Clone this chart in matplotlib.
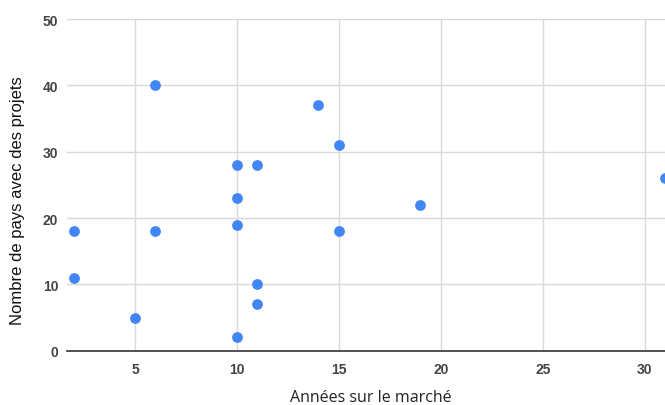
import matplotlib.pyplot as plt

annees = [2, 2, 5, 6, 6, 10, 10, 10, 10, 11, 11, 11, 14, 15, 15, 19, 31]
pays = [18, 11, 5, 40, 18, 28, 23, 19, 2, 28, 10, 7, 37, 31, 18, 22, 26]
xticks = [5, 10, 15, 20, 25, 30]
yticks = [0, 10, 20, 30, 40, 50]

fig = plt.figure(figsize=(6.65, 4.06), dpi=100)
ax = fig.add_axes([0.1003, 0.1338, 0.8997, 0.8169])

ax.scatter(annees, pays, s=60, color="#4285f4", zorder=3, clip_on=True, linewidths=0)

ax.set_xlim(1.65, 31)
ax.set_ylim(0, 50)
ax.set_xticks(xticks)
ax.set_yticks(yticks)
ax.grid(True, color="#d9d9d9", linewidth=1)
ax.set_axisbelow(True)
for s in ["top", "right", "left"]:
    ax.spines[s].set_visible(False)
ax.spines["bottom"].set_color("#333333")
ax.spines["bottom"].set_linewidth(1.2)
ax.tick_params(length=0, labelsize=10, labelcolor="#444444", labelfontfamily="Liberation Sans")
ax.tick_params(axis="x", pad=8)
ax.tick_params(axis="y", pad=6)
for lab in ax.get_xticklabels() + ax.get_yticklabels():
    lab.set_fontweight("bold")

ax.set_xlabel("Années sur le marché", fontsize=11.5, family="Open Sans", color="#222222", va="center")
ax.set_ylabel("Nombre de pays avec des projets", fontsize=12, family="Liberation Sans", color="#111111", va="center")
ax.xaxis.set_label_coords(0.508, -0.14)
ax.yaxis.set_label_coords(-0.083, 0.454)

fig.savefig("out.png")
